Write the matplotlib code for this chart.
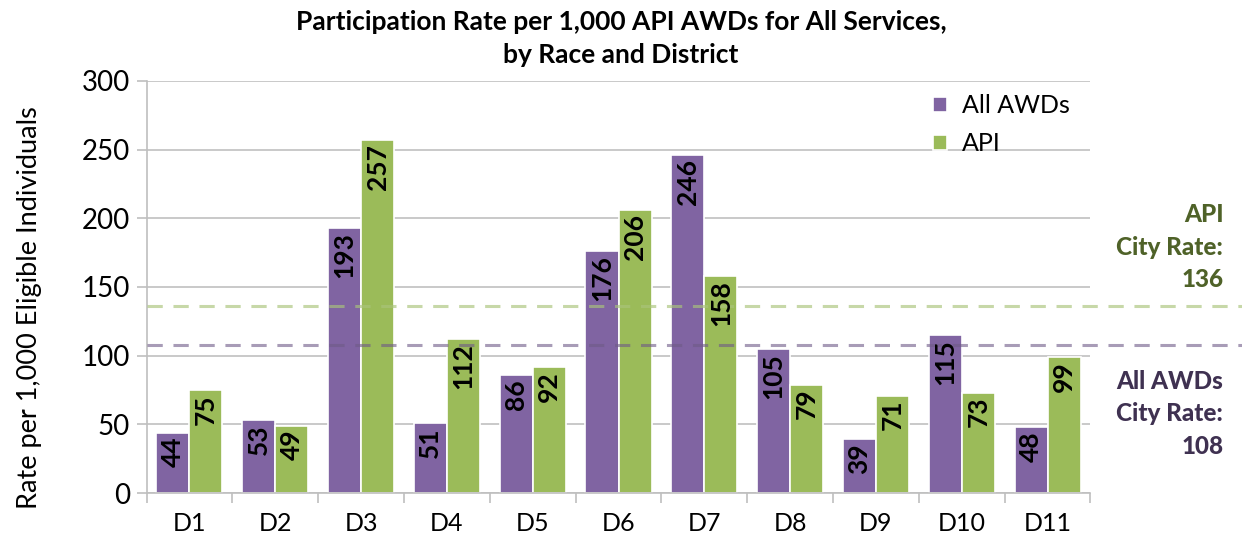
import matplotlib.pyplot as plt
import numpy as np
from matplotlib.transforms import blended_transform_factory

plt.rcParams['font.family'] = ['Lato', 'DejaVu Sans']

districts = ['D1', 'D2', 'D3', 'D4', 'D5', 'D6', 'D7', 'D8', 'D9', 'D10', 'D11']
all_awds = [44, 53, 193, 51, 86, 176, 246, 105, 39, 115, 48]
api = [75, 49, 257, 112, 92, 206, 158, 79, 71, 73, 99]
api_city_rate = 136
all_city_rate = 108

purple = '#8064a2'
green = '#9bbb59'

fig = plt.figure(figsize=(12.42, 5.43), dpi=100)
ax = fig.add_axes([0.118, 0.092, 0.760, 0.759])

x = np.arange(len(districts))
w = 0.385
b1 = ax.bar(x - w / 2, all_awds, w, color=purple, edgecolor='white', linewidth=1.2, label='All AWDs', zorder=2)
b2 = ax.bar(x + w / 2, api, w, color=green, edgecolor='white', linewidth=1.2, label='API', zorder=2)

# bar labels, rotated, inside top
for bars, vals in [(b1, all_awds), (b2, api)]:
    for r, v in zip(bars, vals):
        ax.text(r.get_x() + r.get_width() / 2, v - 3, str(v), rotation=90,
                ha='center', va='top', fontsize=19, fontweight='bold', color='black', zorder=4)

# city rate lines, running past the plot area
tr = blended_transform_factory(ax.transAxes, ax.transData)
ax.plot([0, 1.44], [api_city_rate, api_city_rate], transform=tr, ls=(0, (5, 3.5)), lw=2.2,
        color='#a9c47a', alpha=0.65, clip_on=False, zorder=3)
ax.plot([0, 1.44], [all_city_rate, all_city_rate], transform=tr, ls=(0, (5, 3.5)), lw=2.2,
        color='#6e5a87', alpha=0.6, clip_on=False, zorder=3)

fig.text(0.985, 0.545, 'API\nCity Rate:\n136', ha='right', va='center', fontsize=17.5,
         fontweight='black', color='#4f6228', linespacing=1.5)
fig.text(0.985, 0.238, 'All AWDs\nCity Rate:\n108', ha='right', va='center', fontsize=17.5,
         fontweight='black', color='#3f3151', linespacing=1.5)

ax.set_xlim(-0.5, len(districts) - 0.5)
ax.set_ylim(0, 300)
ax.set_yticks(range(0, 301, 50))
ax.set_xticks(x)
ax.set_xticklabels(districts)
ax.set_xticks(np.arange(-0.5, len(districts), 1), minor=True)
ax.tick_params(axis='x', which='major', length=0, labelsize=18, pad=14)
ax.tick_params(axis='x', which='minor', length=7, color='#bfbfbf', width=1.2)
ax.tick_params(axis='y', length=7, color='#bfbfbf', width=1.2, labelsize=20, pad=5)
ax.yaxis.grid(True, color='#c0c0c0', lw=1.2, zorder=0)
ax.set_axisbelow(True)
for s in ['top', 'right']:
    ax.spines[s].set_visible(False)
for s in ['left', 'bottom']:
    ax.spines[s].set_color('#bfbfbf')
    ax.spines[s].set_linewidth(1.2)

ax.set_ylabel('Rate per 1,000 Eligible Individuals', fontsize=19.5)
ax.yaxis.set_label_coords(-0.111, 0.449)
fig.suptitle('Participation Rate per 1,000 API AWDs for All Services,\nby Race and District',
             fontsize=19, fontweight='bold', y=0.982, linespacing=1.45)

ax.legend(loc='upper left', bbox_to_anchor=(0.733, 0.868), bbox_transform=fig.transFigure,
          frameon=False, fontsize=18, handlelength=0.55, handleheight=0.55, labelspacing=0.6,
          handletextpad=0.6)

fig.savefig('out.png', dpi=100)
